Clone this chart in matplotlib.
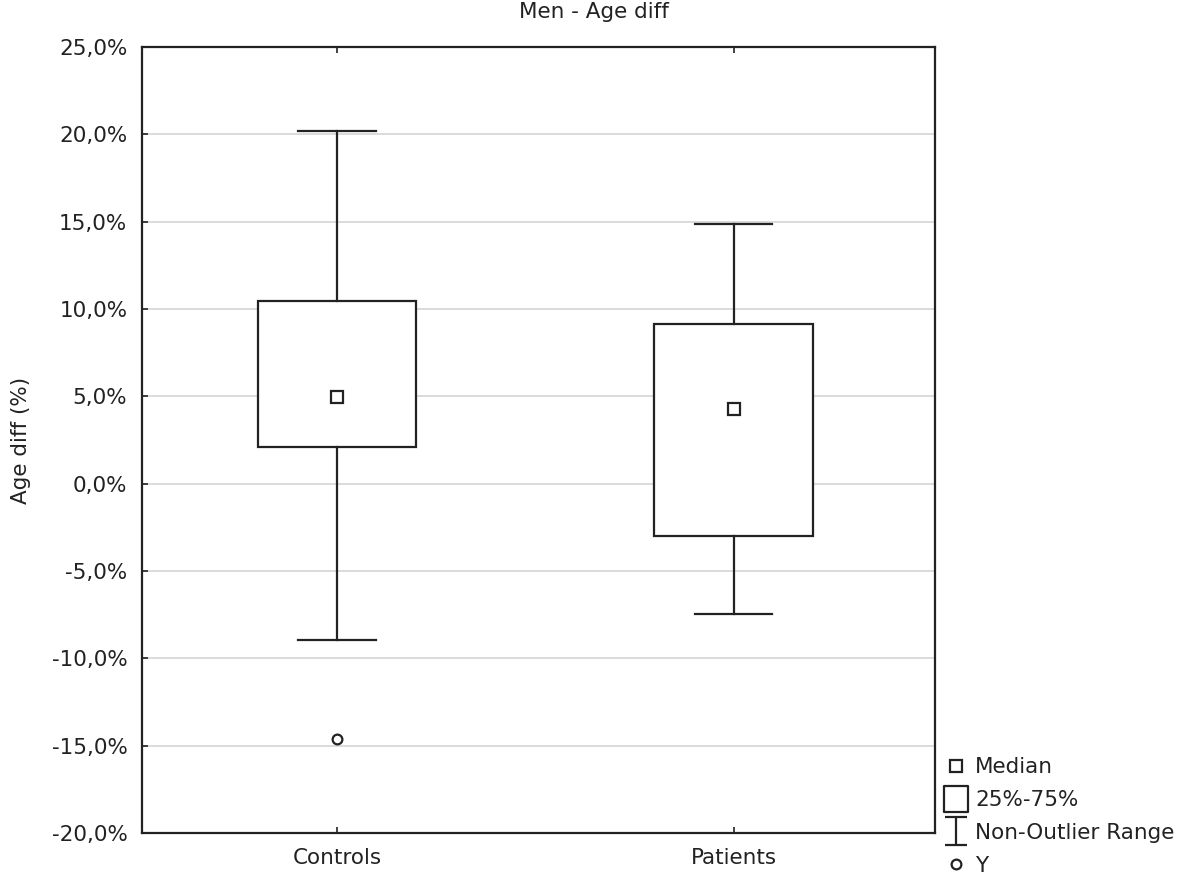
import matplotlib.pyplot as plt
from matplotlib.lines import Line2D
from matplotlib.path import Path
from matplotlib.ticker import FuncFormatter

plt.rcParams['font.family'] = ['DejaVu Sans']

groups = ['Controls', 'Patients']
medians = [4.96, 4.27]
q1 = [2.1, -3.0]
q3 = [10.46, 9.14]
whis_lo = [-8.95, -7.46]
whis_hi = [20.19, 14.87]
outliers = [[-14.62], []]

stats = []
for i, g in enumerate(groups):
    stats.append(dict(label=g, med=medians[i], q1=q1[i], q3=q3[i],
                      whislo=whis_lo[i], whishi=whis_hi[i], fliers=outliers[i]))

ink = '#222222'
fs = 15.5
fig = plt.figure(figsize=(11.81, 8.77), dpi=100)
ax = fig.add_axes([142/1181, 1-833/877, 793/1181, 786/877])

pos = [1, 2]
ax.yaxis.grid(True, color='#d8d8d8', lw=1.3, zorder=0)
ax.set_axisbelow(True)
ax.bxp(stats, positions=pos, widths=0.4, capwidths=0.195, patch_artist=True,
       showfliers=False,
       boxprops=dict(facecolor='white', edgecolor=ink, lw=1.6),
       whiskerprops=dict(color=ink, lw=1.6),
       capprops=dict(color=ink, lw=1.6),
       medianprops=dict(linestyle='none'))
ax.plot(pos, medians, 's', ms=8, mfc='white', mec=ink, mew=1.6, zorder=5)
for p, fl in zip(pos, outliers):
    ax.plot([p]*len(fl), fl, 'o', ms=7, mfc='white', mec=ink, mew=1.6, zorder=5)

ax.set_xlim(0.508, 2.508)
ax.set_ylim(-20, 25)
ax.set_yticks(range(-20, 26, 5))
ax.yaxis.set_major_formatter(FuncFormatter(lambda v, p: ('%.1f%%' % v).replace('.', ',')))
ax.set_xticks(pos)
ax.set_xticklabels(groups)
ax.tick_params(direction='in', length=4, width=1.2, labelsize=fs, colors=ink,
               top=True, pad=11)
ax.tick_params(axis='y', pad=10.5)
for s in ax.spines.values():
    s.set_linewidth(1.6)
    s.set_color(ink)

ax.set_ylabel('Age diff (%)', fontsize=fs, color=ink, labelpad=15)
fig.text(594/1181, 1-12/877, 'Men - Age diff', fontsize=fs, color=ink,
         ha='center', va='center')

ibeam = Path([(-0.82, -1), (0.82, -1), (0, -1), (0, 1), (-0.82, 1), (0.82, 1)],
             [Path.MOVETO, Path.LINETO, Path.MOVETO, Path.LINETO, Path.MOVETO, Path.LINETO])
rect = Path([(-0.44, -0.5), (0.44, -0.5), (0.44, 0.5), (-0.44, 0.5), (-0.44, -0.5)],
            [Path.MOVETO, Path.LINETO, Path.LINETO, Path.LINETO, Path.CLOSEPOLY])
handles = [
    Line2D([], [], ls='none', marker='s', ms=8, mfc='white', mec=ink, mew=1.6),
    Line2D([], [], ls='none', marker=rect, ms=19, mfc='white', mec=ink, mew=1.6),
    Line2D([], [], ls='none', marker=ibeam, ms=19.5, mfc='none', mec=ink, mew=1.6),
    Line2D([], [], ls='none', marker='o', ms=7, mfc='white', mec=ink, mew=1.6),
]
labels = ['Median', '25%-75%', 'Non-Outlier Range', 'Y']
fig.legend(handles, labels, loc='lower left', bbox_to_anchor=(934/1181, -0.011),
           frameon=False, fontsize=fs, handlelength=1.0, handletextpad=0.4,
           labelspacing=0.6, borderaxespad=0.1, labelcolor=ink)

fig.savefig('out.png', dpi=100)
